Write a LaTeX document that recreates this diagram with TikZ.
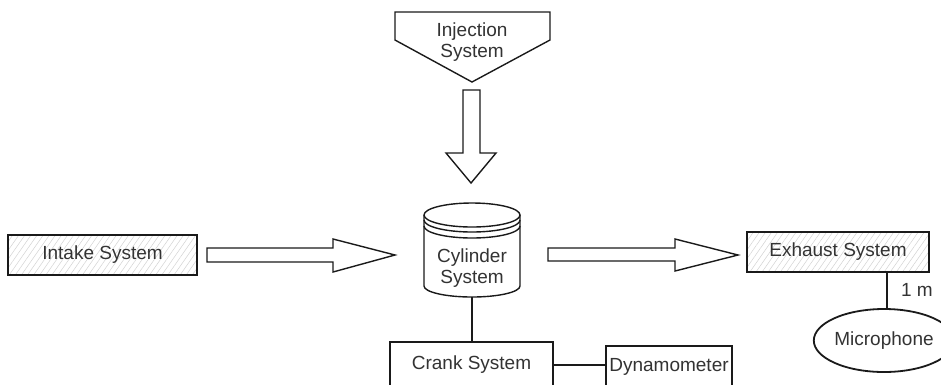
\documentclass[tikz,border=0pt]{standalone}
\usepackage{fontspec}
\setmainfont{Liberation Sans}
\usetikzlibrary{shapes.geometric,patterns.meta}
\definecolor{txt}{HTML}{333333}
\definecolor{ln}{HTML}{1A1A1A}
\begin{document}
\begin{tikzpicture}[x=1pt,y=-1pt,
  every node/.style={font=\fontsize{19}{21}\selectfont, text=txt},
  outl/.style={draw=ln, line width=1.4pt},
  hatchbox/.style={outl, rectangle, inner sep=0pt,
    pattern={Lines[angle=55,distance=5pt,line width=0.5pt]}, pattern color=gray!35},
  plainbox/.style={outl, rectangle, inner sep=0pt, fill=white},
  bigarrow/.style={outl, fill=white, line join=miter},
  conn/.style={draw=ln, line width=1.4pt}]
\useasboundingbox (0,0) rectangle (941,384);
\clip (0,0) rectangle (941,384);
% injection system (off-page shape)
\draw[outl, fill=white] (395,12) -- (550,12) -- (550,40) -- (472,82) -- (395,40) -- cycle;
\node[align=center] (inj) at (472,42) {Injection\\System};
% down arrow
\draw[bigarrow] (463,90) -- (480,90) -- (480,153) -- (496,153) -- (471,183) -- (446,153) -- (463,153) -- cycle;
% intake
\node[hatchbox, minimum width=189pt, minimum height=40pt] (intake) at (102.5,255) {Intake System};
\draw[bigarrow] (207,248) -- (333,248) -- (333,239) -- (395,255) -- (333,272) -- (333,262) -- (207,262) -- cycle;
% cylinder
\draw[outl, fill=white] (424,215) -- (424,286) arc[start angle=180, end angle=0, x radius=48, y radius=11] -- (520,215);
\draw[outl, fill=white] (472,215) ellipse[x radius=48, y radius=12];
\draw[outl] (424,220) arc[start angle=180, end angle=0, x radius=48, y radius=12];
\draw[outl] (424,226) arc[start angle=180, end angle=0, x radius=48, y radius=12];
\node[align=center] (cyl) at (472,268) {Cylinder\\System};
\coordinate (cylb) at (472,297);
% right arrow
\draw[bigarrow] (548,248) -- (675,248) -- (675,239) -- (738,255) -- (675,271) -- (675,261) -- (548,261) -- cycle;
% exhaust
\node[hatchbox, minimum width=182pt, minimum height=40pt] (exh) at (838,252) {Exhaust System};
% microphone
\node[outl, line width=1.8pt, ellipse, minimum width=106pt, minimum height=63pt, inner sep=0pt] (mic) at (884,340.5) {Microphone};
\coordinate (exhb) at (887,272);
\draw[conn] (exhb) -- (exhb |- mic.north) node[midway, right=10pt] {1 m};
% crank
\node[plainbox, minimum width=163pt, minimum height=46pt] (crank) at (471.5,365) {Crank System};
\node[plainbox, minimum width=126pt, minimum height=42pt] (dyn) at (669,367) {Dynamometer};
\draw[conn] (cylb) -- (cylb |- crank.north);
\draw[conn] (crank.east) -- (crank.east -| dyn.west);
\end{tikzpicture}
\end{document}
